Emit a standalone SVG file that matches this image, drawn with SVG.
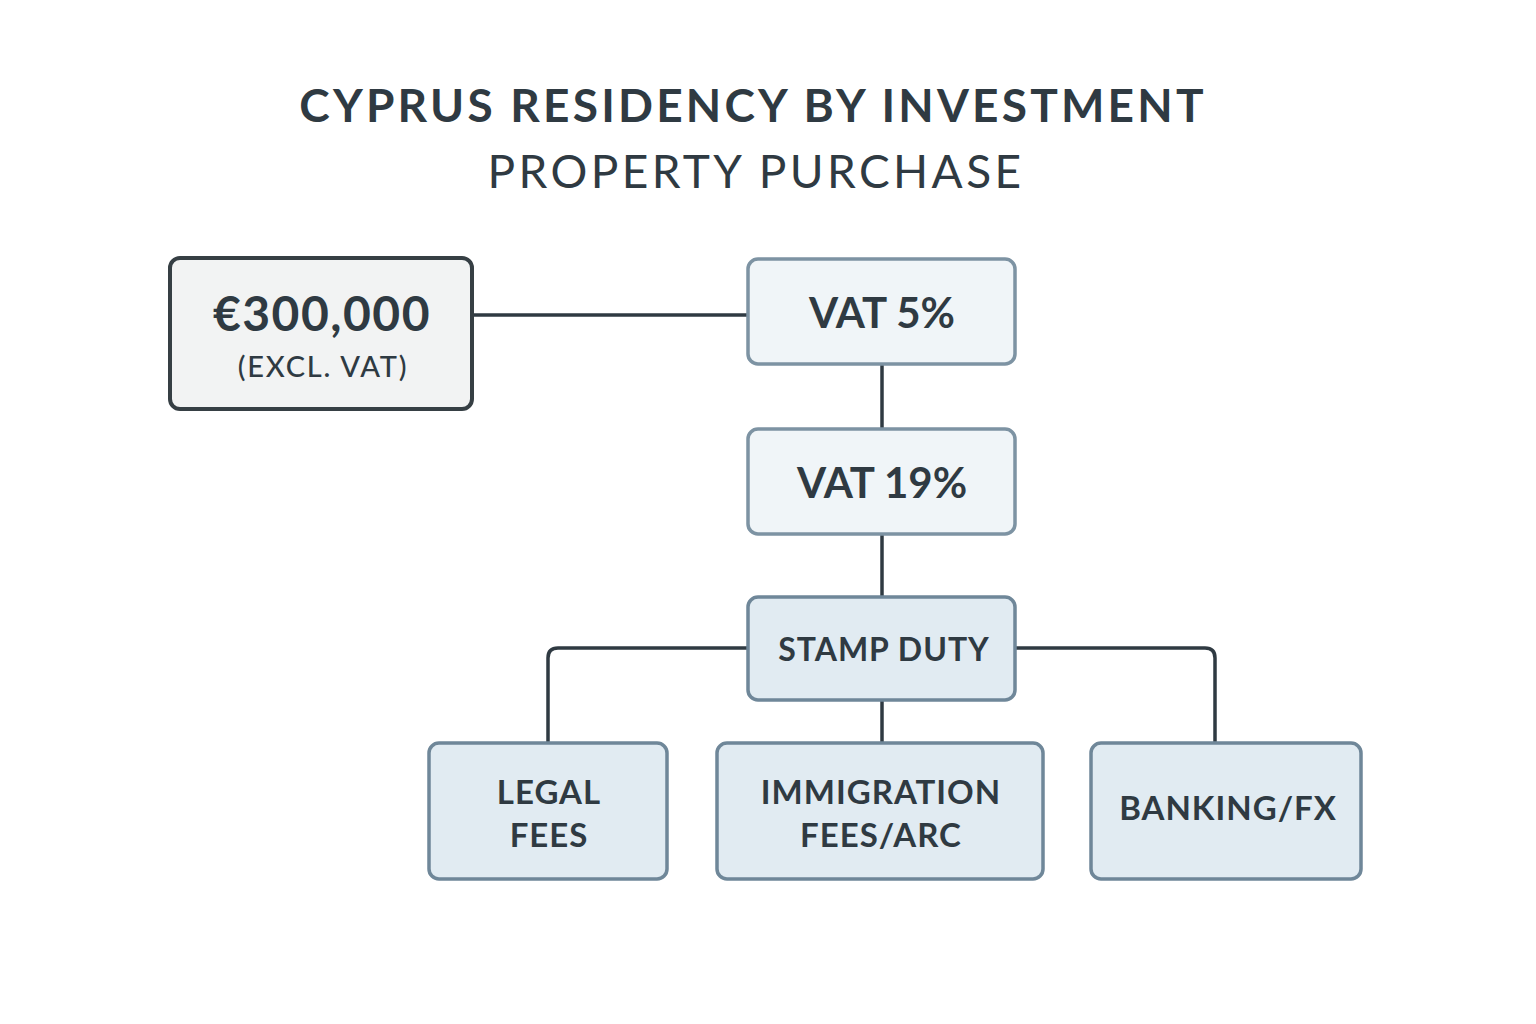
<svg xmlns="http://www.w3.org/2000/svg" width="1536" height="1024" viewBox="0 0 1536 1024">
<style>
text{font-family:Lato,"Open Sans","Liberation Sans",sans-serif;fill:#2f3a42;text-anchor:middle}
.t1{font-size:46px;font-weight:700;letter-spacing:3.2px}
.t2{font-size:46px;font-weight:400;letter-spacing:3.4px}
.n{stroke-width:3.5}
.dark{fill:#f2f3f3;stroke:#363f44;stroke-width:4}
.light{fill:#f0f5f8;stroke:#7d93a3}
.mid{fill:#e1ebf2;stroke:#6f8799}
.big{font-size:42px;font-weight:700}
.lab{font-size:33px;font-weight:700;letter-spacing:1px}
.conn{fill:none;stroke:#2f3a42;stroke-width:3.5}
</style>
<rect width="1536" height="1024" fill="#ffffff"/>
<g id="title">
<text class="t1" x="753" y="122">CYPRUS RESIDENCY BY INVESTMENT</text>
<text class="t2" x="756" y="188">PROPERTY PURCHASE</text>
</g>
<g id="connectors">
<line class="conn" x1="472" y1="315" x2="748" y2="315"/>
<line class="conn" x1="882" y1="364" x2="882" y2="428"/>
<line class="conn" x1="882" y1="534" x2="882" y2="597"/>
<line class="conn" x1="882" y1="700" x2="882" y2="743"/>
<path class="conn" d="M748 648 H558 Q548 648 548 658 V743"/>
<path class="conn" d="M1015 648 H1205 Q1215 648 1215 658 V743"/>
</g>
<g id="price">
<rect class="dark" x="170" y="258" width="302" height="151" rx="10"/>
<text class="big" x="322" y="331" style="font-size:48px;letter-spacing:1.5px">€300,000</text>
<text x="323" y="377" style="font-size:29px;font-weight:500;letter-spacing:1.8px">(EXCL. VAT)</text>
</g>
<g id="vat5">
<rect class="light n" x="748" y="259" width="267" height="105" rx="10"/>
<text class="big" x="882" y="328">VAT 5%</text>
</g>
<g id="vat19">
<rect class="light n" x="748" y="429" width="267" height="105" rx="10"/>
<text class="big" x="882" y="498">VAT 19%</text>
</g>
<g id="stamp">
<rect class="mid n" x="748" y="597" width="267" height="103" rx="10"/>
<text x="884" y="661" style="font-size:32px;font-weight:700;letter-spacing:1px">STAMP DUTY</text>
</g>
<g id="legal">
<rect class="mid n" x="429" y="743" width="238" height="136" rx="10"/>
<text class="lab" x="549" y="804">LEGAL</text>
<text class="lab" x="549" y="847">FEES</text>
</g>
<g id="immigration">
<rect class="mid n" x="717" y="743" width="326" height="136" rx="10"/>
<text class="lab" x="881" y="804">IMMIGRATION</text>
<text class="lab" x="881" y="847">FEES/ARC</text>
</g>
<g id="banking">
<rect class="mid n" x="1091" y="743" width="270" height="136" rx="10"/>
<text class="lab" x="1228" y="820">BANKING/FX</text>
</g>
</svg>
